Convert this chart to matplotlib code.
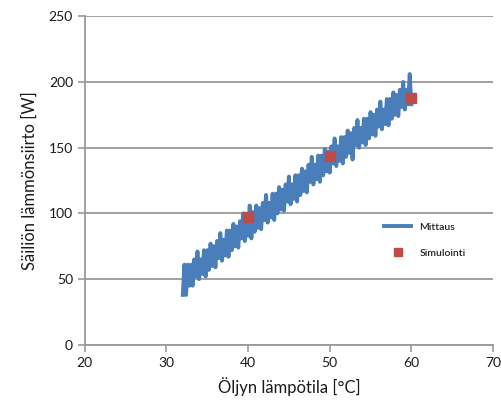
import matplotlib
matplotlib.use('Agg')
import matplotlib.pyplot as plt

plt.rcParams['font.family'] = ['Lato', 'DejaVu Sans']

# Measured oil temperature [°C] and tank heat transfer [W]
temp_meas = [
    32.0, 32.2, 32.4, 32.6, 32.8, 33.0, 33.2, 33.4, 33.6, 33.8,
    34.0, 34.2, 34.4, 34.6, 34.8, 35.0, 35.2, 35.4, 35.6, 35.8,
    36.0, 36.2, 36.4, 36.6, 36.8, 37.0, 37.2, 37.4, 37.6, 37.8,
    38.0, 38.2, 38.4, 38.6, 38.8, 39.0, 39.2, 39.4, 39.6, 39.8,
    40.0, 40.2, 40.4, 40.6, 40.8, 41.0, 41.2, 41.4, 41.6, 41.8,
    42.0, 42.2, 42.4, 42.6, 42.8, 43.0, 43.2, 43.4, 43.6, 43.8,
    44.0, 44.2, 44.4, 44.6, 44.8, 45.0, 45.2, 45.4, 45.6, 45.8,
    46.0, 46.2, 46.4, 46.6, 46.8, 47.0, 47.2, 47.4, 47.6, 47.8,
    48.0, 48.2, 48.4, 48.6, 48.8, 49.0, 49.2, 49.4, 49.6, 49.8,
    50.0, 50.2, 50.4, 50.6, 50.8, 51.0, 51.2, 51.4, 51.6, 51.8,
    52.0, 52.2, 52.4, 52.6, 52.8, 53.0, 53.2, 53.4, 53.6, 53.8,
    54.0, 54.2, 54.4, 54.6, 54.8, 55.0, 55.2, 55.4, 55.6, 55.8,
    56.0, 56.2, 56.4, 56.6, 56.8, 57.0, 57.2, 57.4, 57.6, 57.8,
    58.0, 58.2, 58.4, 58.6, 58.8, 59.0, 59.2, 59.4, 59.6, 59.8,
    60.0,
]
heat_meas = [
    38, 61, 38, 61, 45, 61, 45, 65, 52, 71,
    50, 65, 54, 72, 52, 72, 57, 77, 60, 75,
    59, 79, 66, 85, 64, 80, 68, 87, 67, 87,
    72, 92, 75, 90, 74, 94, 81, 100, 79, 94,
    83, 106, 81, 101, 86, 106, 89, 104, 88, 108,
    95, 114, 93, 108, 97, 115, 95, 115, 100, 120,
    103, 118, 102, 122, 109, 128, 107, 122, 111, 129,
    109, 129, 114, 134, 117, 132, 116, 137, 124, 143,
    122, 137, 126, 144, 124, 144, 129, 149, 132, 147,
    131, 151, 138, 157, 136, 151, 140, 158, 138, 158,
    143, 163, 146, 161, 141, 165, 152, 171, 150, 165,
    154, 172, 152, 172, 157, 177, 160, 175, 159, 179,
    166, 185, 164, 179, 168, 187, 167, 187, 172, 192,
    175, 190, 174, 194, 181, 200, 179, 194, 183, 206,
    183,
]

# Simulated points
temp_sim = [40, 50, 60]
heat_sim = [97, 144, 188]

fig, ax = plt.subplots(figsize=(5.02, 4.15), dpi=100)
fig.subplots_adjust(left=0.169, right=0.982, bottom=0.169, top=0.961)

ax.plot(temp_meas, heat_meas, color='#4a7ebb', linewidth=2.8, label='Mittaus', zorder=3)
ax.plot(temp_sim, heat_sim, linestyle='none', marker='s', markersize=7,
        color='#be4b48', label='Simulointi', zorder=4)

ax.set_xlim(20, 70)
ax.set_ylim(0, 250)
ax.set_xticks([20, 30, 40, 50, 60, 70])
ax.set_yticks([0, 50, 100, 150, 200, 250])

ax.grid(True, axis='y', color='#9a9a9a', linewidth=1.3)
ax.set_axisbelow(True)
for side in ['top', 'right']:
    ax.spines[side].set_visible(False)
for side in ['left', 'bottom']:
    ax.spines[side].set_color('#9a9a9a')
    ax.spines[side].set_linewidth(1.3)
ax.tick_params(axis='both', colors='#9a9a9a', labelcolor='#1a1a1a',
               labelsize=10, length=5, width=1.2)

ax.set_xlabel('Öljyn lämpötila [°C]', fontsize=12, color='#1a1a1a', labelpad=6)
ax.set_ylabel('Säiliön lämmönsiirto [W]', fontsize=12, color='#1a1a1a', labelpad=8)

leg = ax.legend(loc='upper left', bbox_to_anchor=(0.71, 0.4), frameon=False,
                fontsize=7.5, handlelength=2.6, labelspacing=1.6, markerscale=0.75)
for txt in leg.get_texts():
    txt.set_color('#222222')
    txt.set_fontweight('semibold')

plt.savefig('out.png', dpi=100)
plt.close(fig)
